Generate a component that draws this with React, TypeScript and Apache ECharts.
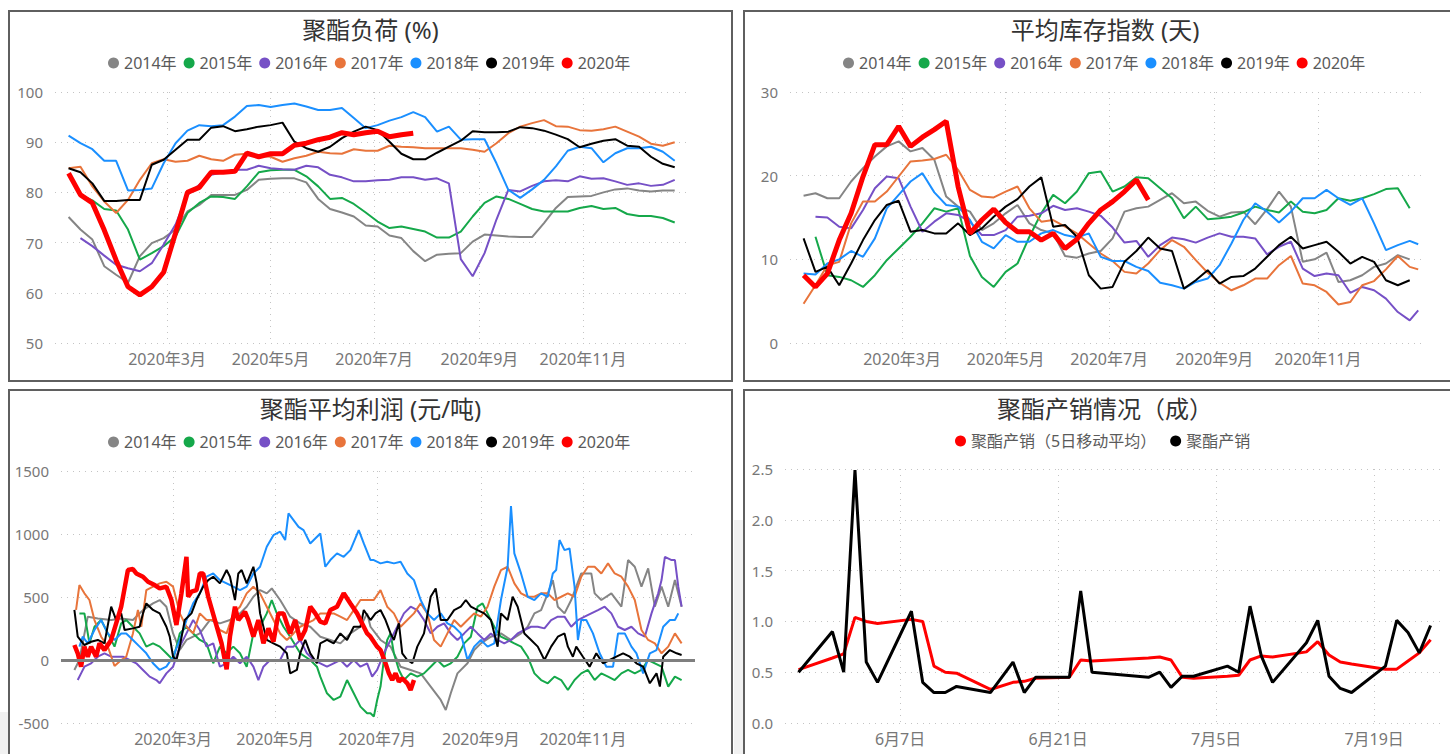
import React, { useEffect, useRef } from 'react';
import * as echarts from 'echarts';

const FONT = "'Noto Sans', 'Noto Sans CJK SC', sans-serif";

// ---------- shared categories ----------
const years = ['2014年', '2015年', '2016年', '2017年', '2018年', '2019年', '2020年'];
const yearColors = ['#858585', '#15A84A', '#7650C6', '#E8743B', '#1A8FFF', '#000000', '#FF0000'];
const monthTickDays = [60, 121, 182, 244, 305]; // days since 2020-01-01
const monthTickLabels = ['2020年3月', '2020年5月', '2020年7月', '2020年9月', '2020年11月'];

// weekly sample days (days since 2020-01-01)
const weekDays = [2, 9, 16, 23, 30, 37, 44, 51, 58, 65, 72, 79, 86, 93, 100, 107, 114, 121, 128, 135, 142, 149, 156, 163, 170, 177, 184, 191, 198, 205, 212, 219, 226, 233, 240, 247, 254, 261, 268, 275, 282, 289, 296, 303, 310, 317, 324, 331, 338, 345, 352, 359];
const invDays = [2, 9, 16, 23, 30, 37, 44, 51, 58, 65, 72, 79, 86, 93, 100, 107, 114, 121, 128, 135, 142, 149, 156, 163, 170, 177, 184, 191, 198, 205, 212, 219, 226, 233, 240, 247, 254, 261, 268, 275, 282, 289, 296, 303, 310, 317, 324, 331, 338, 345, 352, 359, 364];

// ---------- 聚酯负荷 (%) ----------
const load2014 = [75.1, 72.6, 70.6, 65.3, 63.6, 62.0, 67.3, 69.9, 70.9, 72.6, 76.2, 77.5, 79.5, 79.5, 79.5, 80.5, 82.5, 82.7, 82.8, 82.8, 82.0, 78.7, 76.7, 76.0, 75.2, 73.4, 73.2, 71.4, 70.9, 68.3, 66.3, 67.6, 67.8, 67.9, 70.2, 71.6, 71.4, 71.2, 71.1, 71.1, 73.9, 76.9, 79.1, 79.2, 79.3, 80.0, 80.6, 80.8, 80.4, 80.2, 80.4, 80.4];
const load2015 = [null, 79.5, 78.4, 76.7, 76.4, 72.6, 66.6, 67.9, 69.3, 71.2, 75.9, 77.9, 79.2, 79.1, 78.7, 81.2, 84.0, 84.4, 84.5, 84.5, 83.2, 81.2, 78.7, 78.9, 77.7, 76.0, 74.2, 72.9, 73.2, 72.7, 72.2, 71.0, 71.0, 72.2, 75.2, 77.9, 79.2, 78.7, 77.7, 76.7, 76.2, 76.2, 76.2, 76.9, 77.3, 76.7, 76.9, 75.7, 75.3, 75.3, 74.9, 74.0];
const load2016 = [null, 70.9, 69.3, 67.4, 65.6, 64.9, 64.3, 65.9, 69.6, 73.6, 79.5, 81.5, 83.5, 84.0, 84.5, 84.5, 85.3, 84.8, 84.6, 84.5, 85.3, 85.0, 83.5, 83.0, 82.2, 82.2, 82.4, 82.5, 83.0, 83.0, 82.5, 82.8, 81.8, 66.7, 63.3, 67.9, 74.6, 80.5, 80.2, 81.3, 82.2, 82.4, 82.2, 83.2, 82.7, 82.8, 82.2, 81.5, 81.8, 81.3, 81.5, 82.5];
const load2017 = [84.8, 85.1, 81.2, 78.2, 75.9, 78.5, 82.5, 85.8, 86.6, 86.1, 86.3, 87.3, 86.6, 86.3, 87.5, 87.7, 87.3, 87.1, 86.1, 86.8, 87.3, 88.1, 87.8, 87.7, 88.6, 88.3, 88.3, 89.3, 89.1, 89.0, 88.8, 88.8, 88.8, 88.8, 88.5, 88.1, 89.8, 91.8, 93.1, 93.8, 94.4, 93.2, 93.1, 92.4, 92.3, 92.6, 93.1, 92.1, 91.1, 89.7, 89.3, 90.0];
const load2018 = [91.3, 89.8, 88.6, 86.3, 86.3, 80.4, 80.5, 80.8, 85.8, 89.8, 92.3, 93.4, 93.2, 93.4, 95.1, 97.2, 97.4, 97.0, 97.4, 97.7, 97.1, 96.4, 96.4, 96.8, 94.8, 92.8, 93.4, 94.3, 95.0, 96.0, 95.0, 92.1, 93.1, 90.5, 90.6, 90.6, 85.8, 80.5, 78.9, 80.6, 82.5, 85.2, 88.3, 89.1, 88.8, 86.0, 87.8, 88.8, 88.8, 89.1, 88.1, 86.3];
const load2019 = [84.8, 84.0, 81.8, 78.3, 78.3, 78.5, 78.5, 85.5, 86.5, 88.5, 90.5, 90.5, 92.9, 93.2, 92.2, 92.6, 93.1, 93.4, 93.9, 90.1, 88.8, 88.1, 89.1, 90.8, 92.1, 93.1, 92.4, 90.1, 87.7, 86.6, 86.6, 87.9, 89.1, 90.3, 92.2, 92.0, 92.0, 92.1, 93.0, 92.8, 92.3, 91.5, 90.6, 89.0, 89.7, 90.3, 90.6, 89.3, 89.1, 87.1, 85.7, 85.0];
const load2020 = [83.8, 79.5, 77.9, 72.5, 66.5, 61.2, 59.6, 61.2, 64.1, 71.9, 80.0, 81.0, 84.0, 84.0, 84.2, 87.8, 87.1, 87.7, 87.7, 89.4, 89.8, 90.5, 91.0, 91.9, 91.5, 91.9, 92.2, 91.1, 91.5, 91.8];

// ---------- 平均库存指数 (天) ----------
const inv2014 = [17.6, 17.9, 17.3, 17.3, 19.3, 20.9, 22.3, 23.5, 24.1, 22.9, 23.3, 21.9, 17.5, 16.3, 15.7, 13.5, 14.3, 15.5, 16.5, 14.3, 13.5, 13.1, 10.4, 10.2, 10.7, 11.0, 12.5, 15.7, 16.1, 16.3, 17.1, 17.9, 16.7, 16.9, 15.8, 15.1, 15.6, 15.7, 14.2, 16.0, 18.1, 16.3, 9.7, 10.0, 10.8, 7.3, 7.5, 8.1, 9.1, 9.5, 10.5, 10.0, null];
const inv2015 = [null, 12.7, 8.1, 7.9, 7.5, 6.7, 8.1, 9.9, 11.3, 12.7, 14.3, 16.1, 15.7, 16.1, 10.4, 7.9, 6.7, 8.5, 9.5, 12.7, 15.5, 17.7, 16.7, 18.1, 20.3, 20.5, 18.1, 18.7, 19.8, 19.7, 18.5, 17.3, 14.9, 16.3, 14.8, 14.9, 15.1, 15.6, 16.3, 15.9, 15.6, 16.9, 15.7, 15.5, 15.9, 17.3, 17.0, 17.3, 17.8, 18.4, 18.5, 16.1, null];
const inv2016 = [null, 15.1, 15.0, 13.9, 13.7, 15.9, 18.5, 19.9, 19.7, 16.3, 13.3, 14.5, 15.5, 15.3, 14.5, 12.9, 12.9, 13.5, 15.1, 15.2, 15.5, 16.4, 15.9, 16.1, 15.7, 15.2, 13.8, 12.0, 12.2, 10.3, 11.7, 12.6, 12.4, 12.0, 12.6, 13.1, 12.7, 12.7, 12.5, 10.6, 11.5, 12.1, 8.9, 8.0, 8.3, 8.1, 6.0, 6.7, 6.3, 5.3, 3.7, 2.7, 3.9];
const inv2017 = [4.7, 6.9, 9.3, 9.7, 14.3, 16.9, 16.9, 18.1, 19.9, 21.7, 21.8, 22.0, 22.5, 20.7, 18.3, 17.5, 17.4, 18.1, 18.7, 16.1, 14.5, 14.7, 13.9, 13.1, 11.9, 10.7, 9.8, 8.5, 8.3, 9.5, 11.1, 12.3, 11.5, 9.9, 8.4, 7.2, 6.3, 6.9, 7.7, 7.7, 9.3, 10.4, 7.1, 6.9, 6.1, 4.6, 4.9, 6.9, 7.4, 8.8, 10.4, 9.1, 8.8];
const inv2018 = [8.3, 8.2, 9.5, 10.0, 11.0, 10.3, 12.5, 16.1, 17.7, 19.3, 20.3, 18.0, 16.5, 16.3, 14.7, 12.1, 11.3, 12.9, 12.1, 12.1, 13.1, 13.5, 12.9, 12.6, 13.1, 10.3, 9.8, 9.8, 9.1, 8.6, 7.2, 6.9, 6.5, 7.3, 7.7, 9.3, 11.9, 14.7, 16.7, 15.7, 14.4, 15.7, 17.3, 17.3, 18.3, 17.3, 16.5, 17.3, 14.3, 11.1, 11.7, 12.2, 11.8];
const inv2019 = [12.5, 8.5, 9.1, 6.9, 9.5, 12.3, 14.7, 16.5, 17.0, 13.3, 13.5, 13.1, 13.1, 14.3, 12.9, 13.7, 15.1, 16.3, 17.2, 18.7, 19.8, 13.9, 14.1, 12.7, 8.1, 6.5, 6.7, 9.7, 11.0, 12.6, 11.3, 11.0, 6.5, 7.5, 8.7, 7.1, 7.9, 8.0, 8.9, 10.3, 11.7, 12.7, 11.3, 11.7, 12.1, 10.9, 9.5, 10.3, 9.7, 7.5, 6.9, 7.5, null];
const inv2020 = [8.1, 6.7, 8.3, 12.3, 15.5, 19.9, 23.7, 23.7, 25.9, 23.5, 24.6, 25.5, 26.5, 18.7, 13.1, 14.7, 16.0, 14.4, 13.3, 13.3, 12.3, 13.1, 11.3, 12.4, 14.3, 15.9, 16.9, 18.1, 19.5, 17.1];

// ---------- 聚酯平均利润 (元/吨): [day, value] ----------
const profit2014 = [[1,-79],[4,0],[9,344],[15,330],[23,317],[29,330],[36,317],[42,396],[48,449],[52,476],[56,423],[60,211],[64,79],[68,159],[72,185],[76,211],[82,317],[88,291],[94,317],[100,370],[104,423],[108,502],[112,555],[116,529],[119,568],[124,476],[130,344],[136,291],[142,264],[148,185],[154,159],[160,132],[166,211],[172,264],[176,370],[178,264],[184,159],[190,106],[196,-53],[202,-79],[208,-106],[214,-211],[220,-317],[223,-397],[226,-264],[230,-106],[236,-26],[240,79],[244,132],[250,185],[256,211],[262,159],[268,211],[272,264],[276,370],[280,396],[284,529],[287,634],[290,423],[294,370],[298,476],[304,687],[310,687],[312,529],[316,476],[322,529],[328,423],[332,793],[336,740],[340,582],[344,727],[348,423],[352,582],[356,423],[360,634],[364,423]];
const profit2015 = [[4,370],[7,370],[10,132],[13,264],[17,317],[21,211],[25,106],[29,291],[32,317],[36,264],[40,211],[44,106],[48,132],[52,106],[56,53],[60,0],[64,211],[68,264],[72,211],[76,159],[80,132],[84,-26],[88,106],[92,53],[96,106],[100,53],[104,-53],[108,211],[112,264],[116,370],[119,476],[122,370],[126,264],[130,185],[136,53],[142,0],[146,-53],[148,-132],[152,-264],[156,-317],[160,-291],[164,-159],[168,-264],[172,-370],[176,-423],[178,-423],[180,-449],[182,-317],[184,-211],[186,0],[188,159],[190,211],[192,53],[195,-79],[198,-159],[202,-106],[206,-132],[210,-106],[214,-53],[218,0],[222,-53],[226,-26],[230,26],[234,132],[238,185],[242,423],[245,449],[248,370],[252,264],[256,185],[260,159],[264,132],[268,106],[272,26],[276,-106],[280,-159],[284,-185],[288,-132],[292,-159],[296,-238],[300,-159],[304,-106],[308,-79],[312,-159],[316,-106],[320,-132],[324,-159],[328,-106],[332,-79],[336,-106],[340,-79],[344,0],[348,-26],[352,-53],[356,-211],[360,-132],[364,-159]];
const profit2016 = [[3,-159],[5,-106],[7,-53],[11,-26],[15,26],[19,53],[23,26],[27,26],[30,26],[34,0],[38,-26],[42,-79],[46,-132],[50,-159],[52,-185],[56,-106],[60,-53],[64,106],[68,211],[72,317],[76,238],[80,106],[84,132],[88,-53],[92,-26],[96,26],[100,-26],[104,26],[108,-53],[111,-159],[114,-53],[118,0],[124,0],[128,106],[132,106],[136,159],[140,53],[144,0],[148,-26],[152,-53],[156,-26],[160,0],[164,-53],[168,0],[172,-53],[176,-26],[179,-132],[182,-79],[186,53],[190,159],[194,264],[198,370],[202,423],[206,396],[210,317],[214,211],[218,264],[222,291],[226,211],[230,159],[234,211],[238,264],[242,211],[246,159],[250,211],[254,159],[258,132],[262,159],[266,211],[270,238],[274,264],[278,264],[282,251],[286,317],[290,344],[294,344],[298,264],[302,317],[306,344],[310,370],[314,396],[318,423],[322,370],[326,264],[330,238],[334,264],[338,211],[342,185],[346,370],[350,529],[352,634],[354,819],[358,793],[360,793],[362,582],[364,423]];
const profit2017 = [[2,397],[4,595],[7,529],[10,476],[13,317],[17,185],[21,106],[25,-48],[29,0],[32,26],[36,211],[39,397],[41,264],[44,555],[48,582],[52,608],[56,621],[60,582],[64,370],[68,264],[72,211],[76,370],[80,317],[84,317],[88,238],[92,211],[96,370],[100,423],[104,529],[108,582],[112,529],[116,423],[120,317],[124,211],[128,159],[132,211],[136,264],[140,291],[144,317],[148,370],[152,370],[156,370],[160,344],[164,317],[168,396],[172,476],[176,476],[180,476],[184,555],[188,423],[192,370],[196,264],[200,317],[204,370],[208,449],[212,370],[216,159],[220,106],[224,211],[228,317],[232,264],[236,317],[240,370],[244,344],[248,423],[252,582],[256,714],[260,740],[264,608],[268,529],[272,502],[276,502],[280,529],[284,529],[288,476],[292,502],[296,529],[300,502],[304,661],[308,740],[312,740],[316,687],[320,767],[324,687],[328,661],[332,582],[336,476],[340,238],[344,159],[348,132],[352,53],[356,106],[360,211],[364,132]];
const profit2018 = [[4,106],[6,185],[9,132],[13,238],[17,317],[21,211],[25,159],[29,211],[32,211],[36,159],[40,106],[44,53],[48,-26],[52,-79],[56,-53],[60,26],[64,159],[68,317],[72,449],[76,529],[80,661],[84,687],[88,634],[92,608],[96,582],[100,555],[104,582],[108,687],[112,740],[116,899],[120,991],[124,1018],[127,952],[129,1163],[132,1110],[135,1057],[138,1031],[142,925],[148,1004],[151,740],[154,793],[158,846],[162,819],[166,872],[171,1031],[174,925],[178,793],[180,793],[184,767],[188,780],[192,767],[196,780],[200,687],[204,634],[208,476],[212,370],[216,317],[220,370],[224,291],[228,264],[232,211],[236,0],[240,106],[244,159],[248,106],[252,132],[256,476],[260,740],[262,1221],[264,846],[268,687],[272,502],[276,476],[280,529],[284,502],[287,687],[289,714],[291,952],[294,872],[297,885],[300,582],[302,159],[304,317],[307,317],[311,211],[315,53],[319,-53],[323,-53],[326,211],[330,211],[334,106],[337,53],[341,-106],[345,53],[349,79],[353,264],[357,317],[360,317],[362,370]];
const profit2019 = [[1,397],[3,185],[7,119],[11,145],[15,159],[19,132],[23,423],[26,317],[29,370],[31,238],[36,251],[40,264],[42,370],[44,449],[48,397],[52,370],[56,264],[58,185],[60,26],[62,0],[64,106],[67,317],[71,370],[74,476],[78,582],[81,634],[84,661],[88,608],[92,714],[94,661],[97,476],[99,687],[101,714],[104,608],[108,740],[110,608],[112,370],[116,159],[120,132],[124,106],[128,53],[130,-106],[134,-79],[136,53],[139,159],[142,53],[146,-26],[148,132],[152,159],[156,132],[160,211],[164,159],[168,264],[172,264],[174,397],[178,317],[181,370],[184,397],[187,317],[190,211],[192,159],[195,291],[197,53],[200,0],[203,-26],[206,106],[210,211],[214,502],[217,568],[220,317],[224,317],[228,396],[232,423],[235,476],[238,423],[242,396],[246,370],[250,317],[254,106],[256,370],[260,317],[263,502],[266,423],[270,211],[274,159],[278,106],[282,0],[286,106],[290,185],[294,211],[296,106],[299,26],[301,106],[305,26],[309,-53],[313,53],[317,-26],[321,0],[325,26],[329,53],[333,26],[337,-26],[341,-53],[345,-185],[349,-106],[351,-211],[353,26],[357,79],[361,53],[364,40]];
const profit2020 = [[1,119],[3,53],[5,-53],[7,106],[9,26],[11,106],[14,26],[16,132],[19,79],[23,159],[29,423],[33,714],[36,722],[38,687],[42,661],[45,621],[49,595],[52,568],[56,582],[59,476],[62,278],[65,529],[68,819],[69,502],[71,542],[74,555],[76,687],[78,687],[81,502],[85,317],[89,132],[92,-74],[94,185],[97,423],[99,317],[103,383],[105,317],[108,185],[111,317],[114,132],[117,251],[120,145],[123,370],[126,370],[130,211],[133,317],[136,159],[139,238],[142,423],[145,370],[148,304],[151,291],[154,397],[158,423],[162,529],[166,449],[170,370],[174,264],[176,211],[178,185],[182,106],[184,79],[187,-26],[189,-106],[191,-159],[193,-106],[195,-172],[197,-145],[200,-185],[202,-238],[204,-159]];

// ---------- 聚酯产销情况（成） ----------
const salesNames = ['聚酯产销（5日移动平均）', '聚酯产销'];
const salesTickDays = [6, 20, 34, 48]; // days since 2020-06-01
const salesTickLabels = ['6月7日', '6月21日', '7月5日', '7月19日'];
const salesDays = [-3, 0, 1, 2, 3, 4, 7, 8, 9, 10, 11, 14, 16, 17, 18, 21, 22, 23, 28, 29, 30, 31, 32, 35, 36, 37, 38, 39, 42, 43, 44, 45, 46, 49, 50, 51, 52, 53];
const salesMA = [0.525, 0.64, 0.68, 1.04, 1.0, 0.98, 1.02, 1.0, 0.56, 0.5, 0.49, 0.33, 0.4, 0.41, 0.44, 0.45, 0.62, 0.61, 0.64, 0.65, 0.62, 0.45, 0.44, 0.46, 0.47, 0.62, 0.66, 0.65, 0.7, 0.8, 0.67, 0.6, 0.58, 0.53, 0.53, 0.61, 0.69, 0.82];
const salesRaw = [0.5, 0.9, 0.5, 2.49, 0.6, 0.4, 1.1, 0.4, 0.3, 0.3, 0.36, 0.3, 0.6, 0.3, 0.45, 0.45, 1.3, 0.5, 0.45, 0.5, 0.35, 0.46, 0.46, 0.56, 0.5, 1.15, 0.66, 0.4, 0.79, 1.01, 0.46, 0.34, 0.3, 0.56, 1.01, 0.89, 0.69, 0.96];

// ---------- helpers ----------
const pairs = (days: number[], vals: (number | null)[]) => days.map((d, i) => [d, vals[i] == null ? null : vals[i]]);
const dotted = { color: '#c4c4c4', width: 1, type: [1, 5] as any };

function xAxisCfg(gridIndex: number, min: number, max: number, ticks: number[], labels: string[]) {
  return {
    type: 'value', gridIndex, min, max,
    axisLine: { show: false },
    axisTick: { show: false, customValues: ticks },
    axisLabel: {
      customValues: ticks, color: '#777', fontSize: 16, margin: 8, fontFamily: FONT,
      formatter: (v: number) => { const i = ticks.indexOf(v); return i >= 0 ? labels[i] : ''; },
    },
    splitLine: { show: true, lineStyle: dotted },
  };
}
function yAxisCfg(gridIndex: number, min: number, max: number, interval: number, fmt?: (v: number) => string) {
  return {
    type: 'value', gridIndex, min, max, interval,
    axisLine: { show: false }, axisTick: { show: false },
    axisLabel: { color: '#777', fontSize: 15, margin: 12, fontFamily: FONT, formatter: fmt || ((v: number) => String(v)) },
    splitLine: { show: true, lineStyle: dotted },
  };
}
function line(name: string, color: string, width: number, idx: number, data: any[], extra: any = {}) {
  return {
    type: 'line', name, xAxisIndex: idx, yAxisIndex: idx, data,
    showSymbol: false, symbol: 'none', connectNulls: false,
    lineStyle: { color, width }, itemStyle: { color },
    emphasis: { disabled: true }, ...extra,
  };
}
function legendCfg(data: string[], left: number, top: number, gap: number) {
  return {
    data, left, top, padding: 0, itemGap: gap, itemWidth: 11, itemHeight: 11, icon: 'circle',
    textStyle: { color: '#5a5a5a', fontSize: 16, fontFamily: FONT }, selectedMode: false,
  };
}
function titleText(text: string, x: number, y: number) {
  return { type: 'text', x, y, silent: true, style: { text, fill: '#333', fontSize: 24, fontFamily: FONT, textAlign: 'center', textVerticalAlign: 'middle' } };
}
function border(x: number, y: number, w: number, h: number) {
  return { type: 'rect', silent: true, z: 100, shape: { x, y, width: w, height: h }, style: { fill: 'none', stroke: '#5f5f5f', lineWidth: 2 } };
}
function shade(x: number, y: number, w: number, h: number) {
  return { type: 'rect', silent: true, z: -1, shape: { x, y, width: w, height: h }, style: { fill: '#f1f1f1' } };
}

function buildOption() {
  const loadVals = [load2014, load2015, load2016, load2017, load2018, load2019, load2020];
  const invVals = [inv2014, inv2015, inv2016, inv2017, inv2018, inv2019, inv2020];
  const profitVals = [profit2014, profit2015, profit2016, profit2017, profit2018, profit2019, profit2020];
  const series: any[] = [];
  years.forEach((y, i) => {
    const w = i === 6 ? 5 : 2;
    series.push(line(y, yearColors[i], w, 0, pairs(weekDays, loadVals[i])));
  });
  years.forEach((y, i) => {
    const w = i === 6 ? 5 : 2;
    series.push(line(y, yearColors[i], w, 1, pairs(invDays, invVals[i])));
  });
  years.forEach((y, i) => {
    const w = i === 6 ? 4.5 : 2;
    const extra = i === 0 ? {
      markLine: {
        silent: true, symbol: 'none', label: { show: false },
        lineStyle: { color: '#7f7f7f', width: 3, type: 'solid' },
        data: [{ yAxis: 0 }],
      },
    } : {};
    series.push(line(y, yearColors[i], w, 2, profitVals[i], extra));
  });
  series.push(line(salesNames[0], '#FF0000', 3, 3, pairs(salesDays, salesMA)));
  series.push(line(salesNames[1], '#000000', 3, 3, pairs(salesDays, salesRaw)));

  return {
    animation: false,
    backgroundColor: '#ffffff',
    textStyle: { fontFamily: FONT },
    grid: [
      { left: 55, top: 92, width: 635, height: 251 },
      { left: 790, top: 92, width: 635, height: 251 },
      { left: 61, top: 471, width: 634, height: 252 },
      { left: 785, top: 469, width: 658, height: 254 },
    ],
    xAxis: [
      xAxisCfg(0, -6, 368, monthTickDays, monthTickLabels),
      xAxisCfg(1, -6, 368, monthTickDays, monthTickLabels),
      xAxisCfg(2, -7, 372, monthTickDays, monthTickLabels),
      xAxisCfg(3, -4.2, 54.1, salesTickDays, salesTickLabels),
    ],
    yAxis: [
      yAxisCfg(0, 50, 100, 10),
      yAxisCfg(1, 0, 30, 10),
      yAxisCfg(2, -500, 1500, 500),
      yAxisCfg(3, 0, 2.5, 0.5, (v: number) => v.toFixed(1)),
    ],
    legend: [
      legendCfg(years, 108, 55, 7),
      legendCfg(years, 843, 55, 7),
      legendCfg(years, 108, 434, 7),
      legendCfg(salesNames, 955, 433, 14),
    ],
    graphic: [
      shade(0, 712, 8, 42),
      shade(734, 520, 9, 234),
      border(9, 11, 723, 370),
      border(744, 11, 730, 370),
      border(9, 390, 723, 400),
      border(744, 390, 730, 400),
      titleText('聚酯负荷 (%)', 370.5, 29),
      titleText('平均库存指数 (天)', 1105, 29),
      titleText('聚酯平均利润 (元/吨)', 370.5, 408),
      titleText('聚酯产销情况（成）', 1105, 408),
    ],
    series,
  };
}

export default function App() {
  const ref = useRef<HTMLDivElement>(null);
  useEffect(() => {
    if (!ref.current) return;
    const chart = echarts.init(ref.current, null, { renderer: 'svg' });
    chart.setOption(buildOption() as any);
    return () => chart.dispose();
  }, []);
  return (
    <div style={{ position: 'absolute', left: 0, top: 0, width: 1450, height: 754, overflow: 'hidden', background: '#fff' }}>
      <div ref={ref} style={{ width: 1450, height: 754 }} />
    </div>
  );
}
